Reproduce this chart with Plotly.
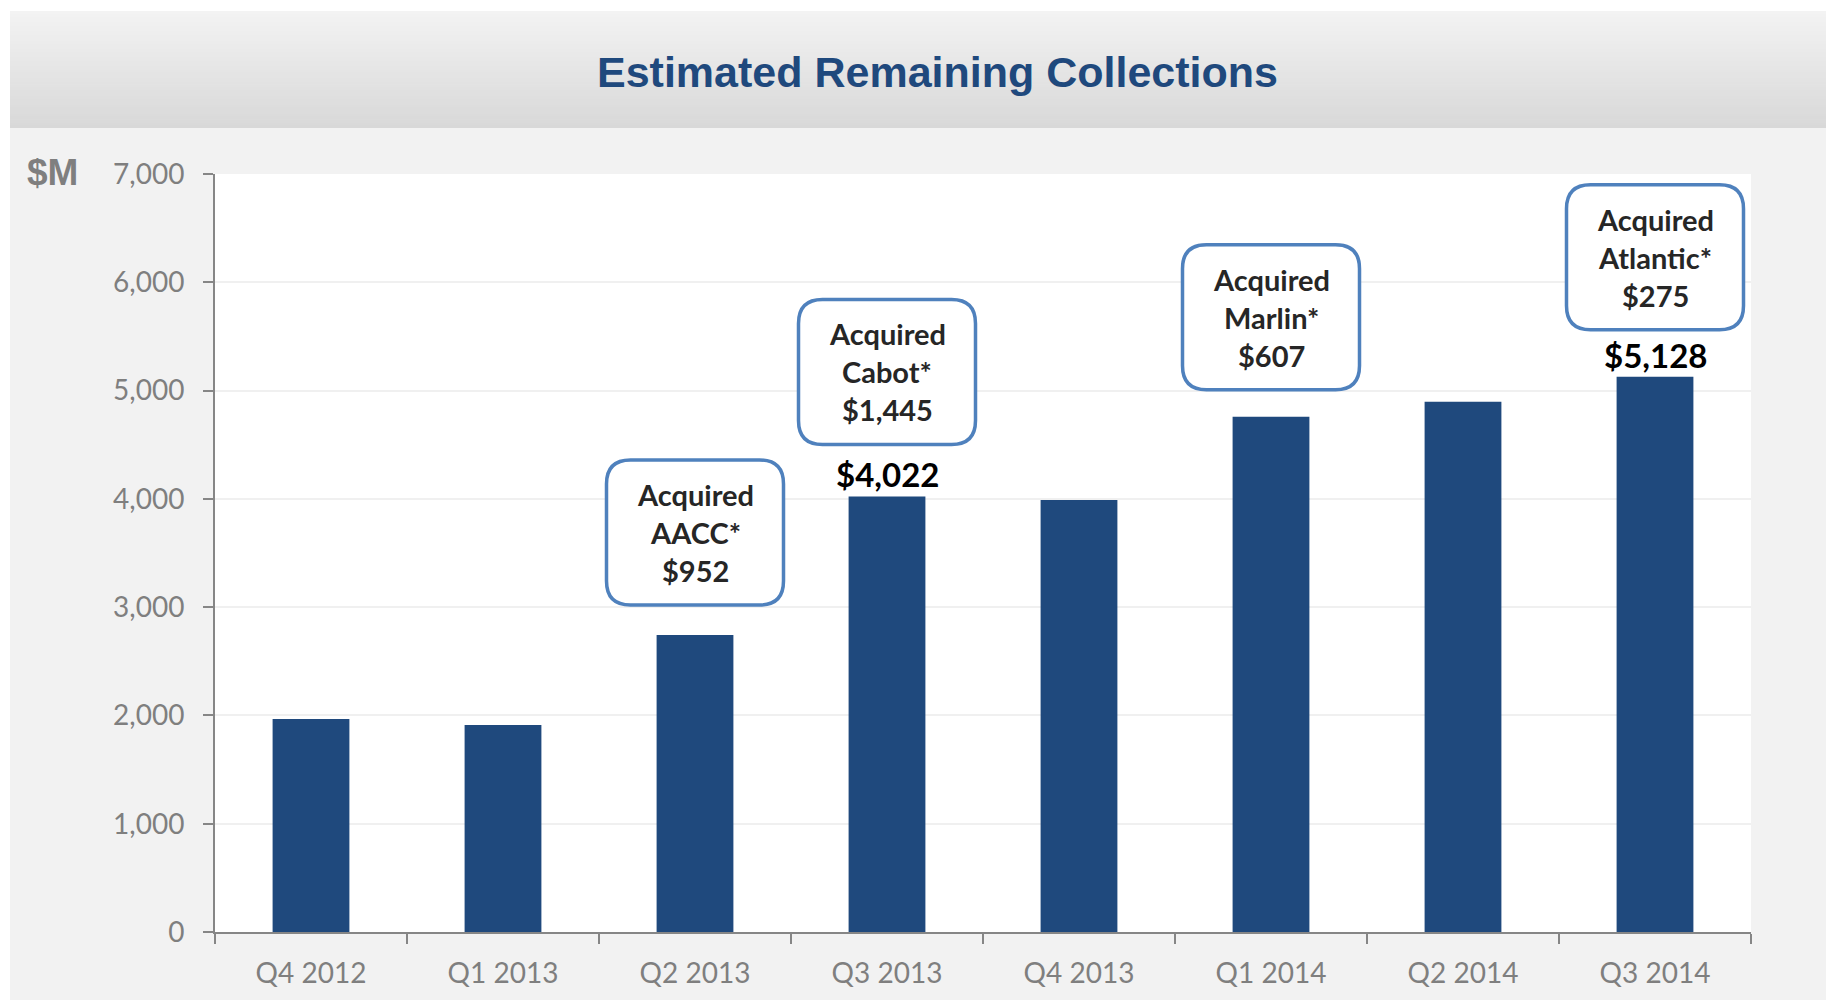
import plotly.graph_objects as go

# ---------------- data ----------------
quarters = ["Q4 2012", "Q1 2013", "Q2 2013", "Q3 2013",
            "Q4 2013", "Q1 2014", "Q2 2014", "Q3 2014"]
collections = [1966, 1911, 2743, 4022, 3989, 4759, 4897, 5128]

acq_quarters = ["Q2 2013", "Q3 2013", "Q1 2014", "Q3 2014"]
acq_names = ["AACC", "Cabot", "Marlin", "Atlantic"]
acq_amounts = [952, 1445, 607, 275]

labeled_quarters = ["Q3 2013", "Q3 2014"]

y_ticks = [0, 1000, 2000, 3000, 4000, 5000, 6000, 7000]

# ---------------- layout constants ----------------
OFF = 8                                    # page body margin
W, H = 1834, 1000                          # overflow beyond viewport is hidden
L, R, T, B = 215 - OFF, 1751 - OFF, 174 - OFF, 932 - OFF   # plot area (figure px)
BAR_COLOR = "#1f497d"
GRAY_TXT = "#7f7f7f"
BOX_BLUE = "#4f81bd"
# gap (px) between bar top and callout box bottom
box_gap = {"Q2 2013": 30, "Q3 2013": 52, "Q1 2014": 27, "Q3 2014": 47}


def px_x(p):
    return (p - L) / (R - L)


def px_y(p):
    return (B - p) / (B - T)


fig = go.Figure()
fig.add_trace(go.Bar(
    x=quarters, y=collections,
    marker=dict(color=BAR_COLOR, line=dict(width=0)),
    hoverinfo="x+y",
))

shapes = []
annotations = []

# thin white margins at left / top
shapes.append(dict(type="rect", xref="paper", yref="paper", layer="below",
                   x0=px_x(-5), x1=px_x(2), y0=px_y(H + 5), y1=px_y(-5),
                   fillcolor="white", line=dict(width=0)))
shapes.append(dict(type="rect", xref="paper", yref="paper", layer="below",
                   x0=px_x(-5), x1=px_x(W + 5), y0=px_y(3), y1=px_y(-5),
                   fillcolor="white", line=dict(width=0)))

# header gradient band
n = 40
top, bot = 3, 120
c0, c1 = (0xF3, 0xF3, 0xF3), (0xD8, 0xD8, 0xD8)
for i in range(n):
    ya = top + (bot - top) * i / n
    yb = top + (bot - top) * (i + 1) / n + 0.6
    t = (i + 0.5) / n
    col = tuple(round(c0[k] + (c1[k] - c0[k]) * t) for k in range(3))
    shapes.append(dict(type="rect", xref="paper", yref="paper", layer="below",
                       x0=px_x(2), x1=px_x(W + 5), y0=px_y(min(yb, bot)), y1=px_y(ya),
                       fillcolor="rgb(%d,%d,%d)" % col, line=dict(width=0)))

# title
annotations.append(dict(text="<b>Estimated Remaining Collections</b>",
                        xref="paper", yref="paper", x=px_x(937 - OFF), y=px_y(72 - OFF),
                        xanchor="center", yanchor="middle", showarrow=False,
                        font=dict(family="Liberation Sans, Arial", size=43, color="#1f497d")))
# unit label
annotations.append(dict(text="<b>$M</b>", xref="paper", yref="paper",
                        x=px_x(25 - OFF), y=px_y(172 - OFF), xanchor="left", yanchor="middle",
                        showarrow=False,
                        font=dict(family="Liberation Sans, Arial", size=37, color=GRAY_TXT)))

# callout boxes
bw, bh, r = 177, 145, 24
val = dict(zip(quarters, collections))
for q, name, amt in zip(acq_quarters, acq_names, acq_amounts):
    o = box_gap[q]
    x0, x1 = -bw / 2, bw / 2
    y0, y1 = o, o + bh
    path = (f"M {x0 + r},{y0} L {x1 - r},{y0} Q {x1},{y0} {x1},{y0 + r} "
            f"L {x1},{y1 - r} Q {x1},{y1} {x1 - r},{y1} L {x0 + r},{y1} "
            f"Q {x0},{y1} {x0},{y1 - r} L {x0},{y0 + r} Q {x0},{y0} {x0 + r},{y0} Z")
    shapes.append(dict(type="path", xref="x", yref="y",
                       xsizemode="pixel", ysizemode="pixel",
                       xanchor=q, yanchor=val[q], path=path,
                       fillcolor="white", line=dict(color=BOX_BLUE, width=3.5),
                       layer="above"))
    lines = ["Acquired", f"{name}*", f"${amt:,}"]
    cy = o + bh / 2
    for k, txt in enumerate(lines):
        annotations.append(dict(text=f"<b>{txt}</b>", x=q, y=val[q], xref="x", yref="y",
                                xanchor="center", yanchor="middle", showarrow=False,
                                yshift=cy + (1 - k) * 38,
                                font=dict(family="Lato", size=29, color="#262626")))

# value labels
for q in labeled_quarters:
    annotations.append(dict(text=f"<b>${val[q]:,}</b>", x=q, y=val[q], xref="x", yref="y",
                            xanchor="center", yanchor="middle", showarrow=False,
                            yshift=22,
                            font=dict(family="Lato", size=33, color="black")))

fig.update_layout(
    width=W, height=H,
    margin=dict(l=L, r=W - R, t=T, b=H - B, pad=0),
    paper_bgcolor="#f2f2f2",
    plot_bgcolor="white",
    showlegend=False,
    bargap=0.6,
    shapes=shapes,
    annotations=annotations,
    xaxis=dict(
        type="category", categoryorder="array", categoryarray=quarters,
        showline=True, linecolor="#868686", linewidth=2,
        ticks="outside", ticklen=10, tickwidth=2, tickcolor="#868686",
        tickson="boundaries", showgrid=False,
        tickfont=dict(family="Lato", size=28, color=GRAY_TXT),
        ticklabelstandoff=15,
    ),
    yaxis=dict(
        range=[0, 7000], tickvals=y_ticks, tickformat=",",
        showline=True, linecolor="#868686", linewidth=2,
        ticks="outside", ticklen=10, tickwidth=2, tickcolor="#868686",
        showgrid=True, gridcolor="#f0f0f0", gridwidth=1.5,
        zeroline=False,
        tickfont=dict(family="Lato", size=28, color=GRAY_TXT),
        ticklabelstandoff=13,
    ),
)

fig.write_html("out.html",
               post_script="document.documentElement.style.overflow='hidden';"
                           "document.body.style.overflow='hidden';")
